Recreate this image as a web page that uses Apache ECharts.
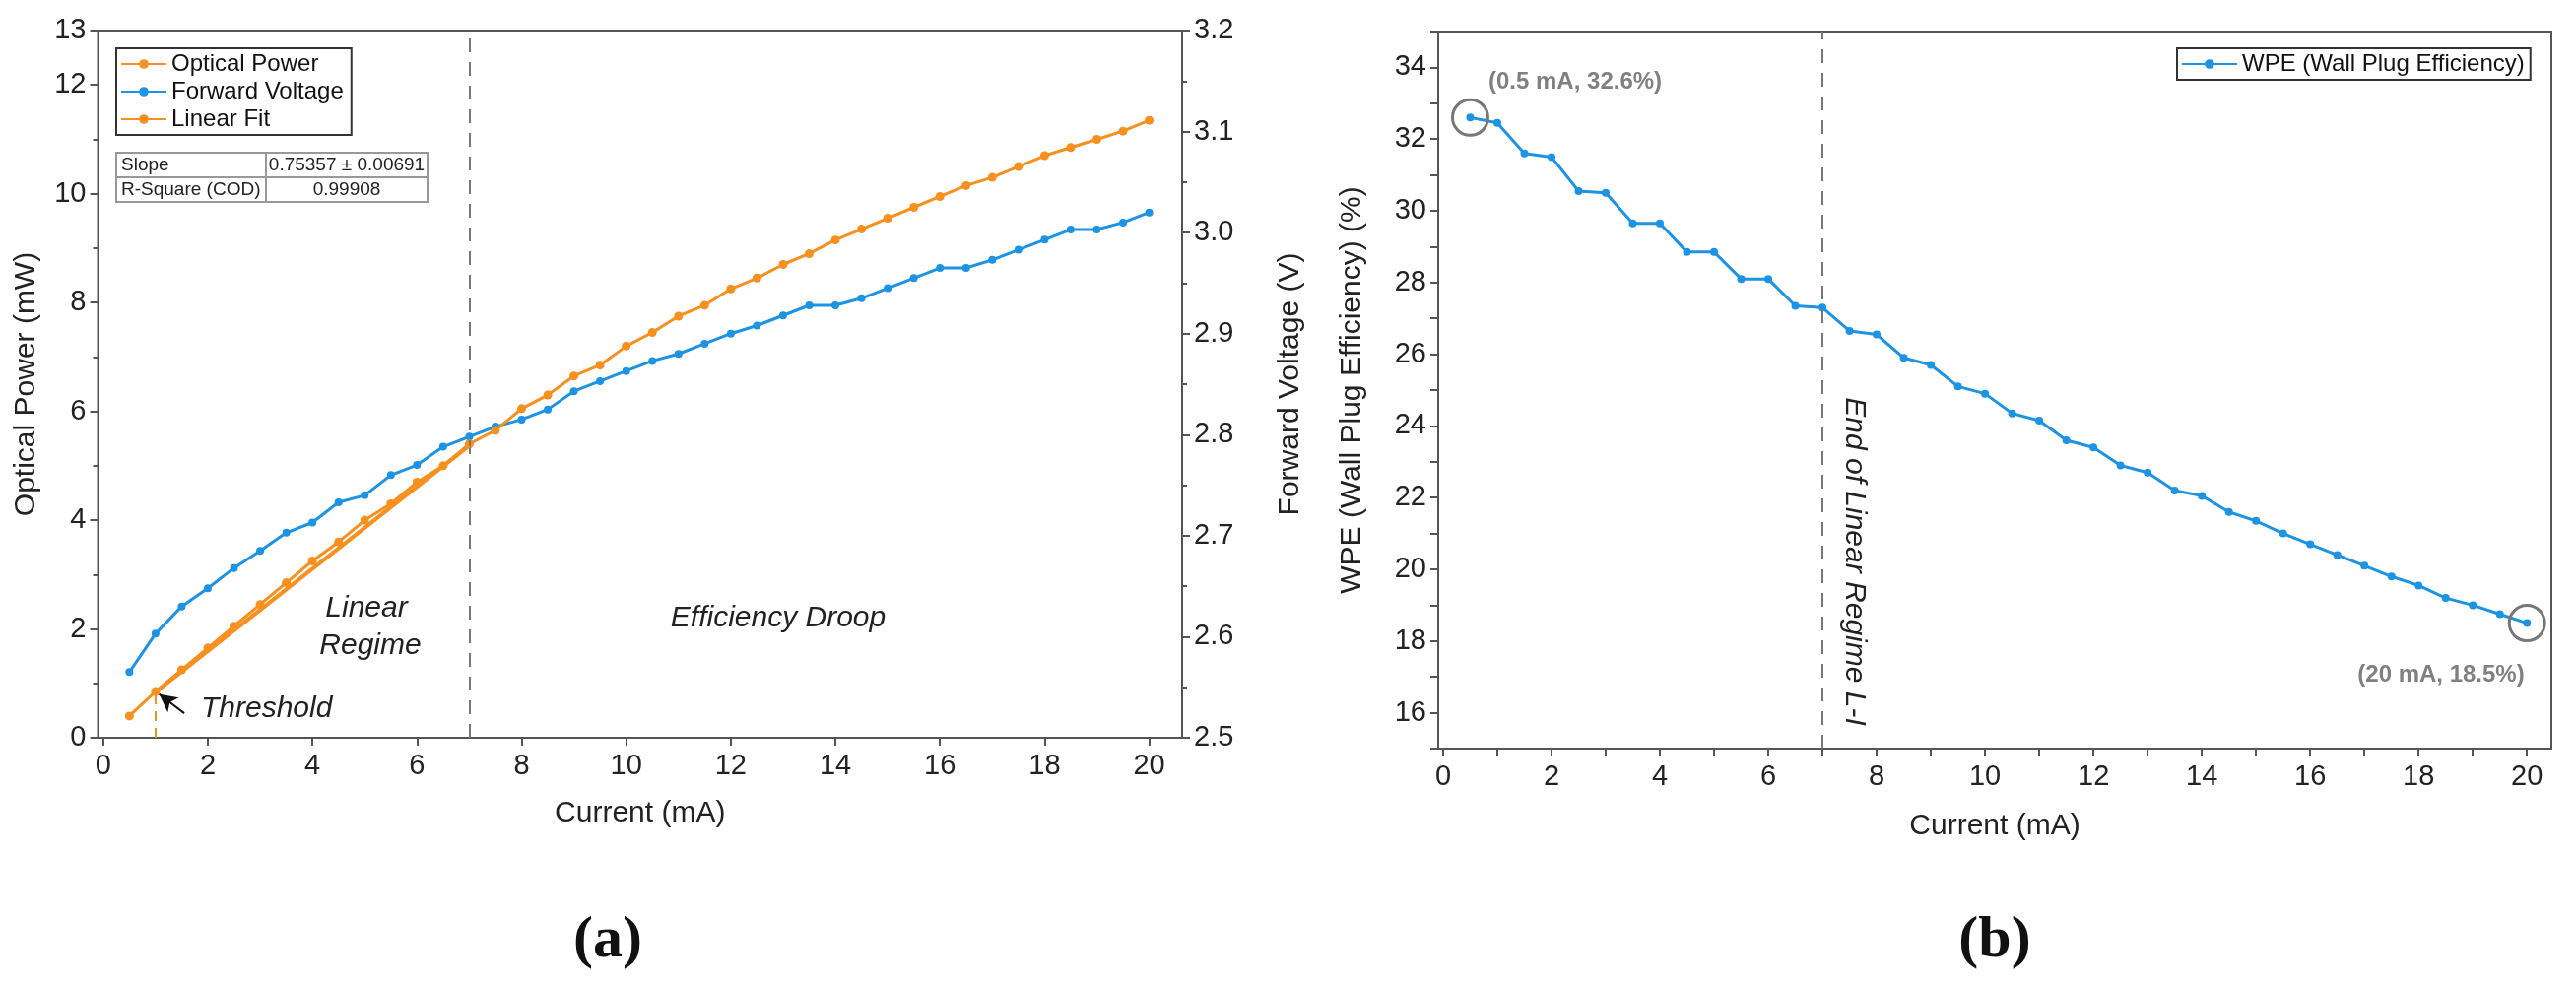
<!DOCTYPE html>
<html>
<head>
<meta charset="utf-8">
<script src="https://cdn.jsdelivr.net/npm/echarts@6/dist/echarts.min.js"></script>
<style>
  html, body { margin: 0; padding: 0; background: #fff; }
  #chart { width: 2615px; height: 1001px; }
</style>
</head>
<body>
<div id="chart"></div>
<script>
// current steps, mA
var current = [0.5, 1, 1.5, 2, 2.5, 3, 3.5, 4, 4.5, 5, 5.5, 6, 6.5, 7, 7.5, 8, 8.5, 9, 9.5, 10,
  10.5, 11, 11.5, 12, 12.5, 13, 13.5, 14, 14.5, 15, 15.5, 16, 16.5, 17, 17.5, 18, 18.5, 19, 19.5, 20];

// optical power, mW
var opticalPower = [0.4, 0.85, 1.25, 1.65, 2.05, 2.45, 2.85, 3.25, 3.6, 4.0, 4.3, 4.7, 5.0, 5.4, 5.65, 6.05, 6.3, 6.65, 6.85, 7.2,
  7.45, 7.75, 7.95, 8.25, 8.45, 8.7, 8.9, 9.15, 9.35, 9.55, 9.75, 9.95, 10.15, 10.3, 10.5, 10.7, 10.85, 11.0, 11.15, 11.35];

// forward voltage, V
var forwardVoltage = [2.565, 2.603, 2.63, 2.648, 2.668, 2.685, 2.703, 2.713, 2.733, 2.74, 2.76, 2.77, 2.788, 2.798, 2.808, 2.815, 2.825, 2.843, 2.853, 2.863,
  2.873, 2.88, 2.89, 2.9, 2.908, 2.918, 2.928, 2.928, 2.935, 2.945, 2.955, 2.965, 2.965, 2.973, 2.983, 2.993, 3.003, 3.003, 3.01, 3.02];

// linear fit end points (1 mA .. 7 mA)
var fitLine = [[1, 0.84], [7, 5.37]];

// wall plug efficiency, %
var wpe = [32.6, 32.45, 31.6, 31.5, 30.55, 30.5, 29.65, 29.65, 28.85, 28.85, 28.1, 28.1, 27.35, 27.3, 26.65, 26.55, 25.9, 25.7, 25.1, 24.9,
  24.35, 24.15, 23.6, 23.4, 22.9, 22.7, 22.2, 22.05, 21.6, 21.35, 21.0, 20.7, 20.4, 20.1, 19.8, 19.55, 19.2, 19.0, 18.75, 18.5];

var fitTable = [['Slope', '0.75357 \u00b1 0.00691'], ['R-Square (COD)', '0.99908']];

var ORANGE = '#F7901E';
var BLUE = '#1C93E3';
var AXIS = '#555';
var FONT = '"Liberation Sans", Arial, sans-serif';

function pairs(xs, ys) {
  return xs.map(function (x, i) { return [x, ys[i]]; });
}

function axisBase() {
  return {
    axisLine: { show: true, onZero: false, lineStyle: { color: AXIS, width: 2 } },
    axisTick: { show: true, length: 8, lineStyle: { color: AXIS, width: 2 } },
    minorTick: { show: true, splitNumber: 2, length: 5, lineStyle: { color: AXIS, width: 2 } },
    axisLabel: { color: '#222', fontSize: 29, fontFamily: FONT },
    splitLine: { show: false },
    nameTextStyle: { color: '#222', fontSize: 30, fontFamily: FONT }
  };
}

var chart = echarts.init(document.getElementById('chart'));

var xLeft = Object.assign(axisBase(), {
  gridIndex: 0, type: 'value', min: -0.1, max: 20.63, interval: 2,
  name: 'Current (mA)', nameLocation: 'middle', nameGap: 62,
  axisLabel: { color: '#222', fontSize: 29, fontFamily: FONT, margin: 14,
    formatter: function (v) { return (v >= 0 && v <= 20 && v % 2 === 0) ? v : ''; } },
  axisTick: { show: true, length: 8, lineStyle: { color: AXIS, width: 2 },
    customValues: [0, 2, 4, 6, 8, 10, 12, 14, 16, 18, 20] },
  axisLabel2: null
});
xLeft.axisLabel.customValues = [0, 2, 4, 6, 8, 10, 12, 14, 16, 18, 20];
xLeft.minorTick = { show: false };

var xRight = Object.assign(axisBase(), {
  gridIndex: 1, type: 'value', min: -0.09, max: 20.45,
  name: 'Current (mA)', nameLocation: 'middle', nameGap: 64
});
xRight.axisLabel = { color: '#222', fontSize: 29, fontFamily: FONT, margin: 14,
  customValues: [0, 2, 4, 6, 8, 10, 12, 14, 16, 18, 20] };
xRight.axisTick = { show: true, length: 8, lineStyle: { color: AXIS, width: 2 },
  customValues: [0, 1, 2, 3, 4, 5, 6, 7, 8, 9, 10, 11, 12, 13, 14, 15, 16, 17, 18, 19, 20] };
xRight.minorTick = { show: false };

var yPower = Object.assign(axisBase(), {
  gridIndex: 0, type: 'value', min: 0, max: 13, interval: 2,
  name: 'Optical Power (mW)', nameLocation: 'middle', nameGap: 58
});
yPower.axisLabel = { color: '#222', fontSize: 29, fontFamily: FONT, margin: 12 };

var yVolt = Object.assign(axisBase(), {
  gridIndex: 0, type: 'value', min: 2.5, max: 3.2, interval: 0.1, position: 'right',
  name: 'Forward Voltage (V)', nameLocation: 'middle', nameGap: 95
});
yVolt.axisLabel = { color: '#222', fontSize: 29, fontFamily: FONT, margin: 12,
  formatter: function (v) { return v.toFixed(1); } };

var yWpe = Object.assign(axisBase(), {
  gridIndex: 1, type: 'value', min: 15, max: 35,
  name: 'WPE (Wall Plug Efficiency) (%)', nameLocation: 'middle', nameGap: 72
});
yWpe.axisLabel = { color: '#222', fontSize: 29, fontFamily: FONT, margin: 12,
  customValues: [16, 18, 20, 22, 24, 26, 28, 30, 32, 34] };
yWpe.axisTick = { show: true, length: 8, lineStyle: { color: AXIS, width: 2 },
  customValues: [15, 16, 17, 18, 19, 20, 21, 22, 23, 24, 25, 26, 27, 28, 29, 30, 31, 32, 33, 34, 35] };
yWpe.minorTick = { show: false };

var dashed = { color: '#777', type: [14, 10], width: 2 };

var option = {
  animation: false,
  backgroundColor: '#fff',
  textStyle: { fontFamily: FONT },
  grid: [
    { left: 99.5, top: 31, width: 1100.5, height: 718, show: true, borderColor: AXIS, borderWidth: 2 },
    { left: 1460, top: 32, width: 1130, height: 728, show: true, borderColor: AXIS, borderWidth: 2 }
  ],
  xAxis: [xLeft, xRight],
  yAxis: [yPower, yVolt, yWpe],
  legend: [
    {
      data: ['Optical Power', 'Forward Voltage', 'Linear Fit'],
      orient: 'vertical', left: 118, top: 49, itemGap: 4, itemWidth: 46, itemHeight: 12,
      padding: [4, 8, 4, 4], borderColor: '#333', borderWidth: 2,
      textStyle: { fontSize: 24, color: '#111', fontFamily: FONT }
    },
    {
      data: ['WPE (Wall Plug Efficiency)'],
      left: 2210, top: 49, itemWidth: 56, itemHeight: 12,
      padding: [4, 6, 4, 4], borderColor: '#333', borderWidth: 2,
      textStyle: { fontSize: 24, color: '#111', fontFamily: FONT }
    }
  ],
  series: [
    {
      name: 'Optical Power', type: 'line', xAxisIndex: 0, yAxisIndex: 0,
      data: pairs(current, opticalPower), symbol: 'circle', symbolSize: 9,
      itemStyle: { color: ORANGE }, lineStyle: { color: ORANGE, width: 3 },
      markLine: {
        silent: true, symbol: 'none', label: { show: false },
        data: [
          [{ coord: [7, 0], lineStyle: dashed }, { coord: [7, 13] }],
          [{ coord: [1, 0], lineStyle: { color: ORANGE, type: [10, 7], width: 2 } }, { coord: [1, 0.8] }]
        ]
      },
      z: 4
    },
    {
      name: 'Forward Voltage', type: 'line', xAxisIndex: 0, yAxisIndex: 1,
      data: pairs(current, forwardVoltage), symbol: 'circle', symbolSize: 8,
      itemStyle: { color: BLUE }, lineStyle: { color: BLUE, width: 3 }, z: 3
    },
    {
      name: 'Linear Fit', type: 'line', xAxisIndex: 0, yAxisIndex: 0,
      data: fitLine, symbol: 'none', showSymbol: false,
      itemStyle: { color: ORANGE }, lineStyle: { color: ORANGE, width: 4 },
      markLine: {
        silent: true, symbol: ['none', 'arrow'], symbolSize: [14, 18], label: { show: false },
        lineStyle: { color: '#111', type: 'solid', width: 2 },
        data: [[{ coord: [1.55, 0.45] }, { coord: [1.07, 0.8] }]]
      },
      z: 5
    },
    {
      name: 'WPE (Wall Plug Efficiency)', type: 'line', xAxisIndex: 1, yAxisIndex: 2,
      data: pairs(current, wpe), symbol: 'circle', symbolSize: 8,
      itemStyle: { color: BLUE }, lineStyle: { color: BLUE, width: 3 },
      markLine: {
        silent: true, symbol: 'none', label: { show: false },
        data: [[{ coord: [7, 15], lineStyle: dashed }, { coord: [7, 35] }]]
      },
      markPoint: {
        symbol: 'circle', symbolSize: 36, silent: true, label: { show: false },
        itemStyle: { color: 'rgba(0,0,0,0)', borderColor: '#777', borderWidth: 3 },
        data: [
          { coord: [current[0], wpe[0]] },
          { coord: [current[current.length - 1], wpe[wpe.length - 1]] }
        ]
      }
    }
  ],
  graphic: []
};

// fit result table
var tbl = { x: 118, y: 155, w: 316, rowH: 25, split: 270 };
option.graphic.push({
  type: 'rect', shape: { x: tbl.x, y: tbl.y, width: tbl.w, height: tbl.rowH * 2 },
  style: { fill: '#fff', stroke: '#999', lineWidth: 2 }
});
option.graphic.push({ type: 'line', shape: { x1: tbl.x, y1: tbl.y + tbl.rowH, x2: tbl.x + tbl.w, y2: tbl.y + tbl.rowH }, style: { stroke: '#999', lineWidth: 2 } });
option.graphic.push({ type: 'line', shape: { x1: tbl.split, y1: tbl.y, x2: tbl.split, y2: tbl.y + tbl.rowH * 2 }, style: { stroke: '#999', lineWidth: 2 } });
fitTable.forEach(function (row, i) {
  var cy = tbl.y + tbl.rowH * i + tbl.rowH / 2;
  option.graphic.push({ type: 'text', x: tbl.x + 5, y: cy,
    style: { text: row[0], fontSize: 19, fontFamily: FONT, fill: '#222', verticalAlign: 'middle' } });
  option.graphic.push({ type: 'text', x: (tbl.split + tbl.x + tbl.w) / 2, y: cy,
    style: { text: row[1], fontSize: 19, fontFamily: FONT, fill: '#222', align: 'center', verticalAlign: 'middle' } });
});

function note(x, y, text, extra) {
  option.graphic.push({ type: 'text', x: x, y: y, rotation: (extra && extra.rotation) || 0,
    style: Object.assign({ text: text, fontSize: 30, fontStyle: 'italic', fontFamily: FONT, fill: '#222',
      align: 'center', verticalAlign: 'middle' }, extra && extra.style) });
}
note(372, 618, 'Linear');
note(376, 656, 'Regime');
note(790, 628, 'Efficiency Droop');
note(204, 720, 'Threshold', { style: { align: 'left' } });
note(1882, 570, 'End of Linear Regime L-I', { rotation: -Math.PI / 2 });
note(1511, 83, '(0.5 mA, 32.6%)', { style: { align: 'left', fontStyle: 'normal', fontWeight: 'bold', fontSize: 24, fill: '#808080' } });
note(2478, 685, '(20 mA, 18.5%)', { style: { fontStyle: 'normal', fontWeight: 'bold', fontSize: 24, fill: '#808080' } });

// panel labels
option.graphic.push({ type: 'text', x: 617, y: 955,
  style: { text: '(a)', fontSize: 60, fontWeight: 'bold', fontFamily: '"Liberation Serif", "DejaVu Serif", serif', fill: '#111', align: 'center', verticalAlign: 'middle' } });
option.graphic.push({ type: 'text', x: 2025, y: 955,
  style: { text: '(b)', fontSize: 60, fontWeight: 'bold', fontFamily: '"Liberation Serif", "DejaVu Serif", serif', fill: '#111', align: 'center', verticalAlign: 'middle' } });

chart.setOption(option);
</script>
</body>
</html>
